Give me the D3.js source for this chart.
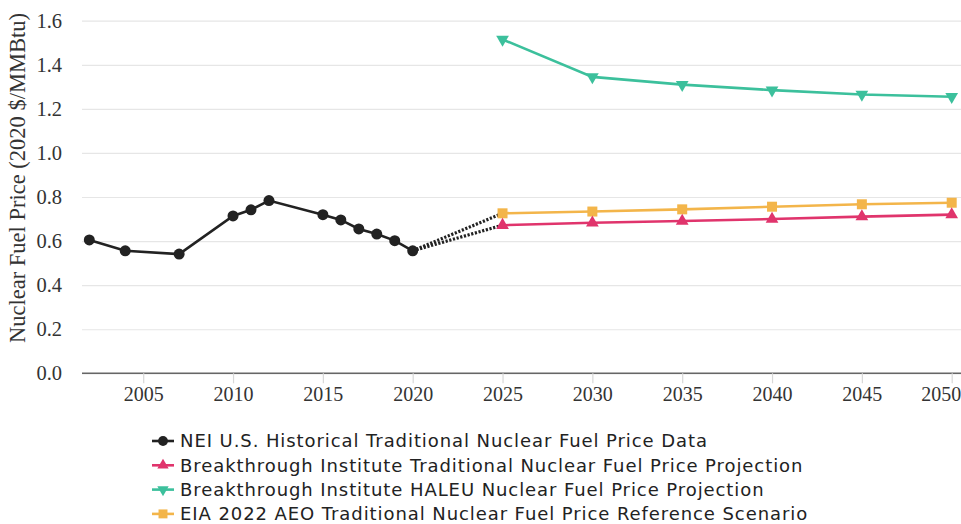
<!DOCTYPE html>
<html>
<head>
<meta charset="utf-8">
<script src="https://cdn.jsdelivr.net/npm/d3@7"></script>
<style>
  body { margin: 0; background: #fff; }
</style>
</head>
<body>
<div id="chart"></div>
<script>
// Data
var histYears = [2002, 2004, 2007, 2010, 2011, 2012, 2015, 2016, 2017, 2018, 2019, 2020];
var histValues = [0.605, 0.556, 0.541, 0.714, 0.742, 0.784, 0.72, 0.696, 0.655, 0.632, 0.602, 0.556];

var projYears = [2025, 2030, 2035, 2040, 2045, 2050];
var btTraditional = [0.672, 0.683, 0.691, 0.700, 0.711, 0.720];
var btHaleu = [1.515, 1.345, 1.31, 1.285, 1.265, 1.255];
var eiaReference = [0.726, 0.734, 0.744, 0.756, 0.767, 0.774];

var yTicks = [0, 0.2, 0.4, 0.6, 0.8, 1.0, 1.2, 1.4, 1.6];
var xTicks = [2005, 2010, 2015, 2020, 2025, 2030, 2035, 2040, 2045, 2050];

var legendLabels = [
  "NEI U.S. Historical Traditional Nuclear Fuel Price Data",
  "Breakthrough Institute Traditional Nuclear Fuel Price Projection",
  "Breakthrough Institute HALEU Nuclear Fuel Price Projection",
  "EIA 2022 AEO Traditional Nuclear Fuel Price Reference Scenario"
];

var width = 961, height = 524;
var colors = ["#222222", "#e0346c", "#3cc09c", "#f3b54a"];

var svg = d3.select("#chart")
  .append("svg")
  .attr("width", width)
  .attr("height", height);

var x = d3.scaleLinear().domain([2002, 2050]).range([89.3, 951.7]);
var y = d3.scaleLinear().domain([0, 1.6]).range([373.3, 20.7]);

var serif = "'Liberation Serif', 'Times New Roman', serif";

// gridlines + y labels
var yAxis = svg.append("g")
  .attr("transform", "translate(82,0)")
  .call(d3.axisLeft(y).tickValues(yTicks).tickFormat(d3.format(".1f"))
    .tickSize(-(width - 82)).tickPadding(20));
yAxis.select(".domain").remove();
yAxis.selectAll(".tick line").attr("stroke", "#e6e6e6").attr("stroke-width", 1.2);
yAxis.selectAll(".tick text")
  .attr("fill", "#333")
  .style("font-family", serif)
  .style("font-size", "20.5px");

// x axis
var xAxis = svg.append("g")
  .attr("transform", "translate(0," + y(0) + ")")
  .call(d3.axisBottom(x).tickValues(xTicks).tickFormat(d3.format("d"))
    .tickSize(10).tickPadding(4));
xAxis.select(".domain").attr("d", "M82,0H" + width).attr("stroke", "#666").attr("stroke-width", 1.6);
xAxis.selectAll(".tick line").attr("stroke", "#d8d8d8").attr("stroke-width", 1.2);
xAxis.selectAll(".tick text")
  .attr("fill", "#333")
  .style("font-family", serif)
  .style("font-size", "20px")
  .attr("text-anchor", function (d) { return d === 2050 ? "end" : "middle"; })
  .attr("dx", function (d) { return d === 2050 ? 9 : 0; });

// y axis title
svg.append("text")
  .attr("transform", "translate(25,178) rotate(-90)")
  .attr("text-anchor", "middle")
  .attr("fill", "#333")
  .style("font-family", serif)
  .style("font-size", "22.5px")
  .text("Nuclear Fuel Price (2020 $/MMBtu)");

var line = d3.line()
  .x(function (d) { return x(d[0]); })
  .y(function (d) { return y(d[1]); });

var hist = histYears.map(function (yr, i) { return [yr, histValues[i]]; });
var series = [btTraditional, btHaleu, eiaReference].map(function (vals) {
  return projYears.map(function (yr, i) { return [yr, vals[i]]; });
});

// dotted connectors from the last historical point
var lastHist = hist[hist.length - 1];
[series[2], series[0]].forEach(function (s) {
  svg.append("path")
    .datum([lastHist, s[0]])
    .attr("d", line)
    .attr("fill", "none")
    .attr("stroke", "#222")
    .attr("stroke-width", 3.2)
    .attr("stroke-dasharray", "2.2,1.6");
});

var symbols = [d3.symbolCircle, d3.symbolTriangle, d3.symbolTriangle, d3.symbolSquare];
var sizes = [95, 70, 70, 100];
var rotations = [0, 0, 180, 0];

function drawSeries(data, idx) {
  svg.append("path")
    .datum(data)
    .attr("d", line)
    .attr("fill", "none")
    .attr("stroke", colors[idx])
    .attr("stroke-width", 2.6);
  svg.append("g").selectAll("path")
    .data(data)
    .enter().append("path")
    .attr("d", d3.symbol().type(symbols[idx]).size(sizes[idx]))
    .attr("transform", function (d) {
      return "translate(" + x(d[0]) + "," + y(d[1]) + ") rotate(" + rotations[idx] + ")";
    })
    .attr("fill", colors[idx]);
}

drawSeries(hist, 0);
drawSeries(series[2], 3);
drawSeries(series[0], 1);
drawSeries(series[1], 2);

// legend
var legend = svg.append("g");
legendLabels.forEach(function (label, i) {
  var ly = 441 + i * 24.3;
  legend.append("line")
    .attr("x1", 152).attr("x2", 174)
    .attr("y1", ly).attr("y2", ly)
    .attr("stroke", colors[i]).attr("stroke-width", 2.6);
  legend.append("path")
    .attr("d", d3.symbol().type(symbols[i]).size(sizes[i] * 0.8))
    .attr("transform", "translate(163," + ly + ") rotate(" + rotations[i] + ")")
    .attr("fill", colors[i]);
  legend.append("text")
    .attr("x", 180)
    .attr("y", ly)
    .attr("dy", "0.35em")
    .attr("fill", "#222")
    .style("font-family", "'DejaVu Sans', sans-serif")
    .style("font-size", "18px")
    .style("letter-spacing", "0.92px")
    .text(label);
});
</script>
</body>
</html>
